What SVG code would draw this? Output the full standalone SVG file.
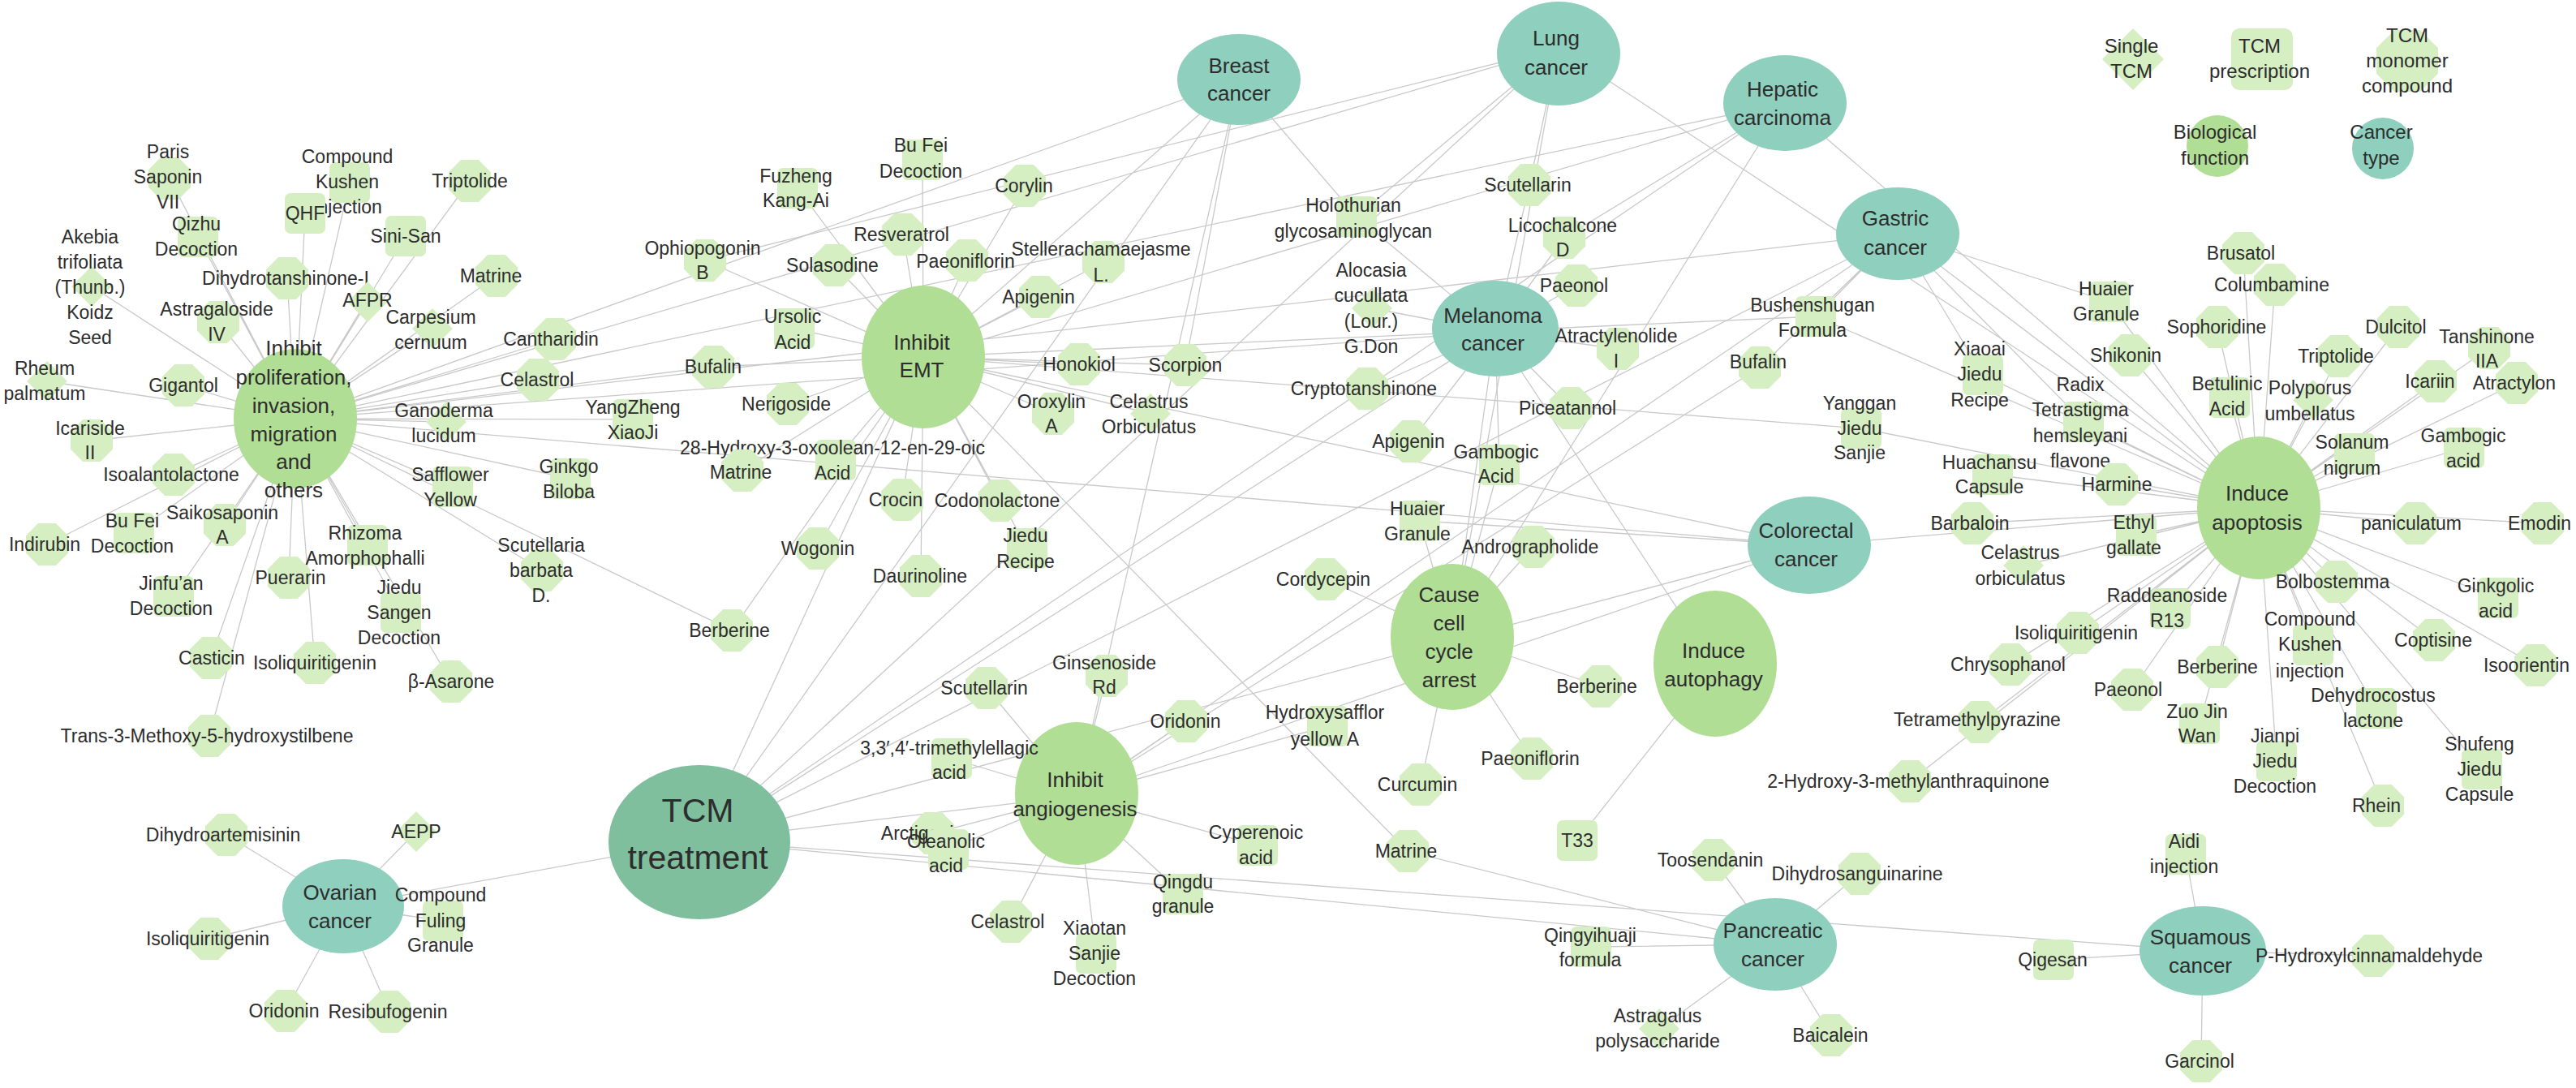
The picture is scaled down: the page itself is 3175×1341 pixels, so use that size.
<svg xmlns="http://www.w3.org/2000/svg" xmlns:xlink="http://www.w3.org/1999/xlink" width="3175" height="1341" viewBox="0 0 3175 1341">
<style>
.e path{fill:none;stroke:#c9c9c9;stroke-width:1.3}
text{font-family:"Liberation Sans",Arial,sans-serif;fill:#2d2d2d;text-anchor:middle}
.t{font-size:23px}
.b{font-size:26px}
.h{font-size:41px}
.lg{font-size:24px}
.bio{fill:#b1de95}
.can{fill:#8fcfbe}
.hub{fill:#7fbf9e}
.sm{fill:#d5efc3}
</style>
<defs>
<polygon id="o" fill="#d5efc3" points="-10.8,-26 10.8,-26 26,-10.8 26,10.8 10.8,26 -10.8,26 -26,10.8 -26,-10.8"/>
<rect id="s" fill="#d5efc3" x="-25" y="-25" width="50" height="50" rx="7"/>
<polygon id="d" fill="#d5efc3" points="0,-25 25,0 0,25 -25,0"/>
</defs>
<rect width="3175" height="1341" fill="#ffffff"/>
<g class="e" id="connectors">
<path d="M864 1036L423 1117M864 1036L2188 1164M864 1036L2715 1172M864 1036L1527 98M864 1036L1921 59M864 1036L2200 127M864 1036L2339 288M864 1036L1843 409M864 1036L2230 672M864 1036L1138 440M864 1036L1327 981"/>
<path d="M364 516L1527 98M364 516L1921 59M364 516L2200 127M364 516L2339 288M364 516L2230 672M364 516L1843 409M1138 440L1527 98M1138 440L2230 672M1138 440L2200 127M1327 981L2230 672M1327 981L1527 98M1327 981L2339 288M1790 785L1843 409M1790 785L2200 127M1790 785L1921 59M2114 821L1843 409M2784 626L2230 672M2784 626L2339 288M2784 626L2200 127M2784 626L1921 59"/>
<path d="M364 516L209 220M364 516L431 225M364 516L579 223M364 516L376 263M364 516L244 292M364 516L500 291M364 516L113 353M364 516L354 343M364 516L612 340M364 516L453 372M364 516L269 397M364 516L533 405M364 516L684 418M364 516L58 470M364 516L226 475M364 516L663 468M364 516L550 520M364 516L780 517M364 516L113 543M364 516L214 585M364 516L558 600M364 516L703 590M364 516L165 657M364 516L58 671M364 516L277 647M364 516L453 672M364 516L668 703M364 516L214 735M364 516L356 712M364 516L494 755M364 516L260 811M364 516L388 817M364 516L556 840M364 516L258 907M364 516L879 452M364 516L902 777"/>
<path d="M1138 440L1137 197M1138 440L983 232M1138 440L1263 229M1138 440L1113 289M1138 440L869 321M1138 440L1028 327M1138 440L1192 321M1138 440L1360 323M1138 440L1282 366M1138 440L979 405M1138 440L879 452M1138 440L1330 449M1138 440L1461 450M1138 440L971 498M1138 440L1298 510M1138 440L1418 510M1138 440L1030 567M1138 440L915 580M1138 440L1112 616M1138 440L1232 617M1138 440L1008 676M1138 440L1266 676M1138 440L1135 710M1138 440L902 777M1138 440L2238 390M1138 440L2294 528M1138 440L1735 1049"/>
<path d="M1327 981L1216 848M1327 981L1364 833M1327 981L1462 889M1327 981L1636 895M1327 981L1173 935M1327 981L1150 1027M1327 981L1169 1047M1327 981L1550 1042M1327 981L1246 1136M1327 981L1351 1175M1327 981L1458 1102M1327 981L2169 453"/>
<path d="M1790 785L1750 642M1790 785L1890 674M1790 785L1634 714M1790 785L1973 846M1790 785L1751 967M1790 785L1888 935M1790 785L1848 573M2114 821L1944 1036"/>
<path d="M2784 626L2765 312M2784 626L2804 351M2784 626L2600 372M2784 626L2733 403M2784 626L2956 403M2784 626L2625 438M2784 626L2883 439M2784 626L3068 429M2784 626L2444 462M2784 626L3002 470M2784 626L3102 472M2784 626L2568 520M2784 626L2748 490M2784 626L2851 493M2784 626L2902 559M2784 626L3037 552M2784 626L2456 585M2784 626L2609 597M2784 626L2977 645M2784 626L3134 645M2784 626L2431 645M2784 626L2633 660M2784 626L2494 697M2784 626L2880 717M2784 626L3079 737M2784 626L2675 750M2784 626L2561 780M2784 626L2851 795M2784 626L3000 789M2784 626L2478 819M2784 626L2733 822M2784 626L3125 820M2784 626L2628 850M2784 626L2929 873M2784 626L2440 890M2784 626L2711 892M2784 626L2806 938M2784 626L3059 948M2784 626L2937 993M2784 626L2354 963M2784 626L2238 390M2784 626L2294 528"/>
<path d="M1843 409L1885 228M1843 409L1672 267M1843 409L1928 293M1843 409L1691 380M1843 409L1943 352M1843 409L1994 430M1843 409L1685 479M1843 409L1936 503M1843 409L1739 544M1843 409L1848 573M1921 59L1885 228M1921 59L1672 267M1921 59L869 321M1527 98L1461 450M1527 98L1672 267M2200 127L1928 293M2339 288L2238 390M2339 288L2169 453M2339 288L2600 372M2339 288L2444 462M2339 288L2568 520M2230 672L1750 642"/>
<path d="M423 1117L279 1029M423 1117L513 1025M423 1117L546 1135M423 1117L258 1157M423 1117L352 1246M423 1117L480 1247M2188 1164L2112 1060M2188 1164L2292 1077M2188 1164L1961 1167M2188 1164L2045 1268M2188 1164L2257 1276M2188 1164L1735 1049M2715 1172L2694 1053M2715 1172L2531 1183M2715 1172L2925 1178M2715 1172L2713 1308"/>
</g>
<g id="legend">
<g id="lg-single"><polygon class="sm" points="2629,35 2667,73 2629,111 2591,73"/><text class="lg"><tspan x="2627" y="65">Single</tspan><tspan x="2627" y="96">TCM</tspan></text></g>
<g id="lg-prescription"><rect class="sm" x="2750" y="35" width="76" height="76" rx="10"/><text class="lg"><tspan x="2785" y="65">TCM</tspan><tspan x="2785" y="96">prescription</tspan></text></g>
<g id="lg-monomer"><polygon class="sm" points="2951.3,37 2982.7,37 3005,59.3 3005,90.7 2982.7,113 2951.3,113 2929,90.7 2929,59.3"/><text class="lg"><tspan x="2967" y="52">TCM</tspan><tspan x="2967" y="83">monomer</tspan><tspan x="2967" y="114">compound</tspan></text></g>
<g id="lg-bio"><circle class="bio" cx="2733" cy="180" r="38"/><text class="lg"><tspan x="2730" y="171">Biological</tspan><tspan x="2730" y="203">function</tspan></text></g>
<g id="lg-cancer"><circle class="can" cx="2937" cy="183" r="38"/><text class="lg"><tspan x="2935" y="171">Cancer</tspan><tspan x="2935" y="203">type</tspan></text></g>
</g>
<g id="hub-tcm"><ellipse class="hub" cx="862" cy="1038" rx="112" ry="95"/><text class="h"><tspan x="860" y="1013">TCM</tspan><tspan x="860" y="1071">treatment</tspan></text></g>
<g id="bio-prolif"><ellipse class="bio" cx="364" cy="516" rx="76" ry="86"/><text class="b"><tspan x="362" y="438">Inhibit</tspan><tspan x="362" y="474">proliferation,</tspan><tspan x="362" y="509">invasion,</tspan><tspan x="362" y="544">migration</tspan><tspan x="362" y="578">and</tspan><tspan x="362" y="613">others</tspan></text></g>
<g id="bio-emt"><ellipse class="bio" cx="1138" cy="440" rx="76" ry="88"/><text class="b"><tspan x="1136" y="431">Inhibit</tspan><tspan x="1136" y="465">EMT</tspan></text></g>
<g id="bio-angio"><ellipse class="bio" cx="1327" cy="978" rx="76" ry="88"/><text class="b"><tspan x="1325" y="970">Inhibit</tspan><tspan x="1325" y="1006">angiogenesis</tspan></text></g>
<g id="bio-cycle"><ellipse class="bio" cx="1790" cy="785" rx="76" ry="90"/><text class="b"><tspan x="1786" y="742">Cause</tspan><tspan x="1786" y="777">cell</tspan><tspan x="1786" y="812">cycle</tspan><tspan x="1786" y="847">arrest</tspan></text></g>
<g id="bio-autophagy"><ellipse class="bio" cx="2114" cy="818" rx="76" ry="90"/><text class="b"><tspan x="2112" y="811">Induce</tspan><tspan x="2112" y="846">autophagy</tspan></text></g>
<g id="bio-apoptosis"><ellipse class="bio" cx="2784" cy="626" rx="76" ry="88"/><text class="b"><tspan x="2782" y="617">Induce</tspan><tspan x="2782" y="653">apoptosis</tspan></text></g>
<g id="ca-breast"><ellipse class="can" cx="1527" cy="98" rx="76" ry="56"/><text class="b"><tspan x="1527" y="90">Breast</tspan><tspan x="1527" y="124">cancer</tspan></text></g>
<g id="ca-lung"><ellipse class="can" cx="1921" cy="66" rx="76" ry="64"/><text class="b"><tspan x="1918" y="56">Lung</tspan><tspan x="1918" y="92">cancer</tspan></text></g>
<g id="ca-hepatic"><ellipse class="can" cx="2200" cy="127" rx="76" ry="59"/><text class="b"><tspan x="2197" y="119">Hepatic</tspan><tspan x="2197" y="154">carcinoma</tspan></text></g>
<g id="ca-gastric"><ellipse class="can" cx="2339" cy="288" rx="76" ry="57"/><text class="b"><tspan x="2336" y="278">Gastric</tspan><tspan x="2336" y="314">cancer</tspan></text></g>
<g id="ca-melanoma"><ellipse class="can" cx="1843" cy="405" rx="78" ry="59"/><text class="b"><tspan x="1840" y="398">Melanoma</tspan><tspan x="1840" y="432">cancer</tspan></text></g>
<g id="ca-colorectal"><ellipse class="can" cx="2230" cy="672" rx="76" ry="60"/><text class="b"><tspan x="2226" y="663">Colorectal</tspan><tspan x="2226" y="698">cancer</tspan></text></g>
<g id="ca-ovarian"><ellipse class="can" cx="423" cy="1117" rx="75" ry="58"/><text class="b"><tspan x="419" y="1109">Ovarian</tspan><tspan x="419" y="1144">cancer</tspan></text></g>
<g id="ca-pancreatic"><ellipse class="can" cx="2188" cy="1164" rx="76" ry="57"/><text class="b"><tspan x="2185" y="1156">Pancreatic</tspan><tspan x="2185" y="1191">cancer</tspan></text></g>
<g id="ca-squamous"><ellipse class="can" cx="2715" cy="1172" rx="78" ry="55"/><text class="b"><tspan x="2712" y="1164">Squamous</tspan><tspan x="2712" y="1199">cancer</tspan></text></g>
<g id="p01"><use href="#o" x="209" y="220"/><text class="t"><tspan x="207" y="195">Paris</tspan><tspan x="207" y="226">Saponin</tspan><tspan x="207" y="257">VII</tspan></text></g>
<g id="p02"><use href="#s" x="431" y="225"/><text class="t"><tspan x="428" y="201">Compound</tspan><tspan x="428" y="232">Kushen</tspan><tspan x="428" y="263">Injection</tspan></text></g>
<g id="p03"><use href="#o" x="579" y="223"/><text class="t" x="579" y="231">Triptolide</text></g>
<g id="p04"><use href="#s" x="376" y="263"/><text class="t" x="376" y="271">QHF</text></g>
<g id="p05"><use href="#s" x="244" y="292"/><text class="t"><tspan x="242" y="284">Qizhu</tspan><tspan x="242" y="315">Decoction</tspan></text></g>
<g id="p06"><use href="#s" x="500" y="291"/><text class="t" x="500" y="299">Sini-San</text></g>
<g id="p07"><use href="#d" x="113" y="353"/><text class="t"><tspan x="111" y="300">Akebia</tspan><tspan x="111" y="331">trifoliata</tspan><tspan x="111" y="362">(Thunb.)</tspan><tspan x="111" y="393">Koidz</tspan><tspan x="111" y="424">Seed</tspan></text></g>
<g id="p08"><use href="#o" x="354" y="343"/><text class="t" x="352" y="351">Dihydrotanshinone-I</text></g>
<g id="p09"><use href="#o" x="612" y="340"/><text class="t" x="605" y="348">Matrine</text></g>
<g id="p10"><use href="#d" x="453" y="372"/><text class="t" x="453" y="378">AFPR</text></g>
<g id="p11"><use href="#o" x="269" y="397"/><text class="t"><tspan x="267" y="389">Astragaloside</tspan><tspan x="267" y="420">IV</tspan></text></g>
<g id="p12"><use href="#d" x="533" y="405"/><text class="t"><tspan x="531" y="399">Carpesium</tspan><tspan x="531" y="430">cernuum</tspan></text></g>
<g id="p13"><use href="#o" x="684" y="418"/><text class="t" x="679" y="426">Cantharidin</text></g>
<g id="p14"><use href="#d" x="58" y="470"/><text class="t"><tspan x="55" y="462">Rheum</tspan><tspan x="55" y="493">palmatum</tspan></text></g>
<g id="p15"><use href="#o" x="226" y="475"/><text class="t" x="226" y="483">Gigantol</text></g>
<g id="p16"><use href="#o" x="663" y="468"/><text class="t" x="662" y="476">Celastrol</text></g>
<g id="p17"><use href="#d" x="550" y="520"/><text class="t"><tspan x="547" y="514">Ganoderma</tspan><tspan x="547" y="545">lucidum</tspan></text></g>
<g id="p18"><use href="#s" x="780" y="517"/><text class="t"><tspan x="780" y="510">YangZheng</tspan><tspan x="780" y="541">XiaoJi</tspan></text></g>
<g id="p19"><use href="#o" x="113" y="543"/><text class="t"><tspan x="111" y="536">Icariside</tspan><tspan x="111" y="566">II</tspan></text></g>
<g id="p20"><use href="#o" x="214" y="585"/><text class="t" x="211" y="593">Isoalantolactone</text></g>
<g id="p21"><use href="#s" x="558" y="600"/><text class="t"><tspan x="555" y="593">Safflower</tspan><tspan x="555" y="624">Yellow</tspan></text></g>
<g id="p22"><use href="#s" x="703" y="590"/><text class="t"><tspan x="701" y="583">Ginkgo</tspan><tspan x="701" y="614">Biloba</tspan></text></g>
<g id="p23"><use href="#s" x="165" y="657"/><text class="t"><tspan x="163" y="650">Bu Fei</tspan><tspan x="163" y="681">Decoction</tspan></text></g>
<g id="p24"><use href="#o" x="58" y="671"/><text class="t" x="55" y="679">Indirubin</text></g>
<g id="p25"><use href="#o" x="277" y="647"/><text class="t"><tspan x="274" y="640">Saikosaponin</tspan><tspan x="274" y="670">A</tspan></text></g>
<g id="p26"><use href="#s" x="453" y="672"/><text class="t"><tspan x="450" y="665">Rhizoma</tspan><tspan x="450" y="696">Amorphophalli</tspan></text></g>
<g id="p27"><use href="#o" x="668" y="703"/><text class="t"><tspan x="667" y="680">Scutellaria</tspan><tspan x="667" y="711">barbata</tspan><tspan x="667" y="742">D.</tspan></text></g>
<g id="p28"><use href="#s" x="214" y="735"/><text class="t"><tspan x="211" y="727">Jinfu’an</tspan><tspan x="211" y="758">Decoction</tspan></text></g>
<g id="p29"><use href="#o" x="356" y="712"/><text class="t" x="358" y="720">Puerarin</text></g>
<g id="p30"><use href="#s" x="494" y="755"/><text class="t"><tspan x="492" y="732">Jiedu</tspan><tspan x="492" y="763">Sangen</tspan><tspan x="492" y="794">Decoction</tspan></text></g>
<g id="p31"><use href="#o" x="260" y="811"/><text class="t" x="261" y="819">Casticin</text></g>
<g id="p32"><use href="#o" x="388" y="817"/><text class="t" x="388" y="825">Isoliquiritigenin</text></g>
<g id="p33"><use href="#o" x="556" y="840"/><text class="t" x="556" y="848">β-Asarone</text></g>
<g id="p34"><use href="#o" x="258" y="907"/><text class="t" x="255" y="915">Trans-3-Methoxy-5-hydroxystilbene</text></g>
<g id="e01"><use href="#s" x="1137" y="197"/><text class="t"><tspan x="1135" y="187">Bu Fei</tspan><tspan x="1135" y="219">Decoction</tspan></text></g>
<g id="e02"><use href="#s" x="983" y="232"/><text class="t"><tspan x="981" y="225">Fuzheng</tspan><tspan x="981" y="255">Kang-Ai</tspan></text></g>
<g id="e03"><use href="#o" x="1263" y="229"/><text class="t" x="1262" y="237">Corylin</text></g>
<g id="e04"><use href="#o" x="1113" y="289"/><text class="t" x="1111" y="297">Resveratrol</text></g>
<g id="e05"><use href="#o" x="869" y="321"/><text class="t"><tspan x="866" y="314">Ophiopogonin</tspan><tspan x="866" y="344">B</tspan></text></g>
<g id="e06"><use href="#o" x="1028" y="327"/><text class="t" x="1026" y="335">Solasodine</text></g>
<g id="e07"><use href="#o" x="1192" y="321"/><text class="t" x="1190" y="330">Paeoniflorin</text></g>
<g id="e08"><use href="#o" x="1360" y="323"/><text class="t"><tspan x="1357" y="315">Stellerachamaejasme</tspan><tspan x="1357" y="347">L.</tspan></text></g>
<g id="e09"><use href="#o" x="1282" y="366"/><text class="t" x="1280" y="374">Apigenin</text></g>
<g id="e10"><use href="#s" x="979" y="405"/><text class="t"><tspan x="977" y="398">Ursolic</tspan><tspan x="977" y="430">Acid</tspan></text></g>
<g id="e11"><use href="#o" x="879" y="452"/><text class="t" x="879" y="460">Bufalin</text></g>
<g id="e12"><use href="#o" x="1330" y="449"/><text class="t" x="1330" y="457">Honokiol</text></g>
<g id="e13"><use href="#o" x="1461" y="450"/><text class="t" x="1461" y="458">Scorpion</text></g>
<g id="e14"><use href="#o" x="971" y="498"/><text class="t" x="969" y="506">Nerigoside</text></g>
<g id="e15"><use href="#o" x="1298" y="510"/><text class="t"><tspan x="1296" y="503">Oroxylin</tspan><tspan x="1296" y="533">A</tspan></text></g>
<g id="e16"><use href="#d" x="1418" y="510"/><text class="t"><tspan x="1416" y="503">Celastrus</tspan><tspan x="1416" y="534">Orbiculatus</tspan></text></g>
<g id="e17"><use href="#s" x="1030" y="567"/><text class="t"><tspan x="1026" y="560">28-Hydroxy-3-oxoolean-12-en-29-oic</tspan><tspan x="1026" y="591">Acid</tspan></text></g>
<g id="e18"><use href="#o" x="915" y="580"/><text class="t" x="913" y="590">Matrine</text></g>
<g id="e19"><use href="#o" x="1112" y="616"/><text class="t" x="1104" y="624">Crocin</text></g>
<g id="e20"><use href="#o" x="1232" y="617"/><text class="t" x="1229" y="625">Codonolactone</text></g>
<g id="e21"><use href="#o" x="1008" y="676"/><text class="t" x="1008" y="684">Wogonin</text></g>
<g id="e22"><use href="#s" x="1266" y="676"/><text class="t"><tspan x="1264" y="668">Jiedu</tspan><tspan x="1264" y="700">Recipe</tspan></text></g>
<g id="e23"><use href="#o" x="1135" y="710"/><text class="t" x="1134" y="718">Daurinoline</text></g>
<g id="e24"><use href="#o" x="902" y="777"/><text class="t" x="899" y="785">Berberine</text></g>
<g id="a01"><use href="#o" x="1216" y="848"/><text class="t" x="1213" y="856">Scutellarin</text></g>
<g id="a02"><use href="#o" x="1364" y="833"/><text class="t"><tspan x="1361" y="825">Ginsenoside</tspan><tspan x="1361" y="855">Rd</tspan></text></g>
<g id="a03"><use href="#o" x="1462" y="889"/><text class="t" x="1461" y="897">Oridonin</text></g>
<g id="a04"><use href="#s" x="1636" y="895"/><text class="t"><tspan x="1633" y="886">Hydroxysafflor</tspan><tspan x="1633" y="919">yellow A</tspan></text></g>
<g id="a05"><use href="#s" x="1173" y="935"/><text class="t"><tspan x="1170" y="930">3,3′,4′-trimethylellagic</tspan><tspan x="1170" y="960">acid</tspan></text></g>
<g id="a06"><use href="#o" x="1150" y="1027"/><text class="t" x="1137" y="1035">Arctigenin</text></g>
<g id="a07"><use href="#s" x="1169" y="1047"/><text class="t"><tspan x="1166" y="1045">Oleanolic</tspan><tspan x="1166" y="1075">acid</tspan></text></g>
<g id="a08"><use href="#s" x="1550" y="1042"/><text class="t"><tspan x="1548" y="1034">Cyperenoic</tspan><tspan x="1548" y="1065">acid</tspan></text></g>
<g id="a09"><use href="#o" x="1246" y="1136"/><text class="t" x="1242" y="1144">Celastrol</text></g>
<g id="a10"><use href="#s" x="1351" y="1175"/><text class="t"><tspan x="1349" y="1152">Xiaotan</tspan><tspan x="1349" y="1183">Sanjie</tspan><tspan x="1349" y="1214">Decoction</tspan></text></g>
<g id="a11"><use href="#s" x="1458" y="1102"/><text class="t"><tspan x="1458" y="1095">Qingdu</tspan><tspan x="1458" y="1125">granule</tspan></text></g>
<g id="c01"><use href="#s" x="1750" y="642"/><text class="t"><tspan x="1747" y="635">Huaier</tspan><tspan x="1747" y="666">Granule</tspan></text></g>
<g id="c02"><use href="#o" x="1890" y="674"/><text class="t" x="1886" y="682">Andrographolide</text></g>
<g id="c03"><use href="#o" x="1634" y="714"/><text class="t" x="1631" y="722">Cordycepin</text></g>
<g id="c04"><use href="#o" x="1973" y="846"/><text class="t" x="1968" y="854">Berberine</text></g>
<g id="c05"><use href="#o" x="1751" y="967"/><text class="t" x="1747" y="975">Curcumin</text></g>
<g id="c06"><use href="#o" x="1888" y="935"/><text class="t" x="1886" y="943">Paeoniflorin</text></g>
<g id="c07"><use href="#s" x="1848" y="573"/><text class="t"><tspan x="1844" y="565">Gambogic</tspan><tspan x="1844" y="595">Acid</tspan></text></g>
<g id="u01"><use href="#s" x="1944" y="1036"/><text class="t" x="1944" y="1044">T33</text></g>
<g id="m01"><use href="#o" x="1885" y="228"/><text class="t" x="1883" y="236">Scutellarin</text></g>
<g id="m02"><use href="#s" x="1672" y="267"/><text class="t"><tspan x="1668" y="261">Holothurian</tspan><tspan x="1668" y="293">glycosaminoglycan</tspan></text></g>
<g id="m03"><use href="#o" x="1928" y="293"/><text class="t"><tspan x="1926" y="286">Licochalcone</tspan><tspan x="1926" y="316">D</tspan></text></g>
<g id="m04"><use href="#d" x="1691" y="380"/><text class="t"><tspan x="1690" y="341">Alocasia</tspan><tspan x="1690" y="372">cucullata</tspan><tspan x="1690" y="404">(Lour.)</tspan><tspan x="1690" y="435">G.Don</tspan></text></g>
<g id="m05"><use href="#o" x="1943" y="352"/><text class="t" x="1940" y="360">Paeonol</text></g>
<g id="m06"><use href="#o" x="1994" y="430"/><text class="t"><tspan x="1992" y="422">Atractylenolide</tspan><tspan x="1992" y="453">I</tspan></text></g>
<g id="m07"><use href="#o" x="1685" y="479"/><text class="t" x="1681" y="487">Cryptotanshinone</text></g>
<g id="m08"><use href="#o" x="1936" y="503"/><text class="t" x="1932" y="511">Piceatannol</text></g>
<g id="m09"><use href="#o" x="1739" y="544"/><text class="t" x="1736" y="552">Apigenin</text></g>
<g id="g01"><use href="#s" x="2238" y="390"/><text class="t"><tspan x="2234" y="384">Bushenshugan</tspan><tspan x="2234" y="415">Formula</tspan></text></g>
<g id="g02"><use href="#o" x="2169" y="453"/><text class="t" x="2167" y="454">Bufalin</text></g>
<g id="g03"><use href="#s" x="2294" y="528"/><text class="t"><tspan x="2292" y="505">Yanggan</tspan><tspan x="2292" y="536">Jiedu</tspan><tspan x="2292" y="566">Sanjie</tspan></text></g>
<g id="d01"><use href="#o" x="2765" y="312"/><text class="t" x="2762" y="320">Brusatol</text></g>
<g id="d02"><use href="#o" x="2804" y="351"/><text class="t" x="2800" y="359">Columbamine</text></g>
<g id="d03"><use href="#s" x="2600" y="372"/><text class="t"><tspan x="2596" y="364">Huaier</tspan><tspan x="2596" y="395">Granule</tspan></text></g>
<g id="d04"><use href="#o" x="2733" y="403"/><text class="t" x="2732" y="411">Sophoridine</text></g>
<g id="d05"><use href="#o" x="2956" y="403"/><text class="t" x="2953" y="411">Dulcitol</text></g>
<g id="d06"><use href="#o" x="2625" y="438"/><text class="t" x="2620" y="446">Shikonin</text></g>
<g id="d07"><use href="#o" x="2883" y="439"/><text class="t" x="2879" y="447">Triptolide</text></g>
<g id="d08"><use href="#o" x="3068" y="429"/><text class="t"><tspan x="3065" y="423">Tanshinone</tspan><tspan x="3065" y="453">IIA</tspan></text></g>
<g id="d09"><use href="#s" x="2444" y="462"/><text class="t"><tspan x="2440" y="438">Xiaoai</tspan><tspan x="2440" y="469">Jiedu</tspan><tspan x="2440" y="501">Recipe</tspan></text></g>
<g id="d10"><use href="#o" x="3002" y="470"/><text class="t" x="2995" y="478">Icariin</text></g>
<g id="d11"><use href="#o" x="3102" y="472"/><text class="t" x="3099" y="480">Atractylon</text></g>
<g id="d12"><use href="#s" x="2568" y="520"/><text class="t"><tspan x="2564" y="482">Radix</tspan><tspan x="2564" y="513">Tetrastigma</tspan><tspan x="2564" y="545">hemsleyani</tspan><tspan x="2564" y="576">flavone</tspan></text></g>
<g id="d13"><use href="#s" x="2748" y="490"/><text class="t"><tspan x="2745" y="481">Betulinic</tspan><tspan x="2745" y="512">Acid</tspan></text></g>
<g id="d14"><use href="#d" x="2851" y="493"/><text class="t"><tspan x="2847" y="486">Polyporus</tspan><tspan x="2847" y="518">umbellatus</tspan></text></g>
<g id="d15"><use href="#s" x="2902" y="559"/><text class="t"><tspan x="2899" y="553">Solanum</tspan><tspan x="2899" y="585">nigrum</tspan></text></g>
<g id="d16"><use href="#s" x="3037" y="552"/><text class="t"><tspan x="3036" y="545">Gambogic</tspan><tspan x="3036" y="576">acid</tspan></text></g>
<g id="d17"><use href="#s" x="2456" y="585"/><text class="t"><tspan x="2452" y="578">Huachansu</tspan><tspan x="2452" y="608">Capsule</tspan></text></g>
<g id="d18"><use href="#o" x="2609" y="597"/><text class="t" x="2609" y="605">Harmine</text></g>
<g id="d19"><use href="#o" x="2977" y="645"/><text class="t" x="2972" y="653">paniculatum</text></g>
<g id="d20"><use href="#o" x="3134" y="645"/><text class="t" x="3130" y="653">Emodin</text></g>
<g id="d21"><use href="#o" x="2431" y="645"/><text class="t" x="2428" y="653">Barbaloin</text></g>
<g id="d22"><use href="#s" x="2633" y="660"/><text class="t"><tspan x="2630" y="652">Ethyl</tspan><tspan x="2630" y="683">gallate</tspan></text></g>
<g id="d23"><use href="#d" x="2494" y="697"/><text class="t"><tspan x="2490" y="689">Celastrus</tspan><tspan x="2490" y="721">orbiculatus</tspan></text></g>
<g id="d24"><use href="#o" x="2880" y="717"/><text class="t" x="2875" y="725">Bolbostemma</text></g>
<g id="d25"><use href="#s" x="3079" y="737"/><text class="t"><tspan x="3076" y="730">Ginkgolic</tspan><tspan x="3076" y="761">acid</tspan></text></g>
<g id="d26"><use href="#s" x="2675" y="750"/><text class="t"><tspan x="2671" y="742">Raddeanoside</tspan><tspan x="2671" y="773">R13</tspan></text></g>
<g id="d27"><use href="#o" x="2561" y="780"/><text class="t" x="2559" y="788">Isoliquiritigenin</text></g>
<g id="d28"><use href="#s" x="2851" y="795"/><text class="t"><tspan x="2847" y="771">Compound</tspan><tspan x="2847" y="802">Kushen</tspan><tspan x="2847" y="835">injection</tspan></text></g>
<g id="d29"><use href="#o" x="3000" y="789"/><text class="t" x="2999" y="797">Coptisine</text></g>
<g id="d30"><use href="#o" x="2478" y="819"/><text class="t" x="2475" y="827">Chrysophanol</text></g>
<g id="d31"><use href="#o" x="2733" y="822"/><text class="t" x="2733" y="830">Berberine</text></g>
<g id="d32"><use href="#o" x="3125" y="820"/><text class="t" x="3114" y="828">Isoorientin</text></g>
<g id="d33"><use href="#o" x="2628" y="850"/><text class="t" x="2623" y="858">Paeonol</text></g>
<g id="d34"><use href="#s" x="2929" y="873"/><text class="t"><tspan x="2925" y="865">Dehydrocostus</tspan><tspan x="2925" y="896">lactone</tspan></text></g>
<g id="d35"><use href="#o" x="2440" y="890"/><text class="t" x="2437" y="895">Tetramethylpyrazine</text></g>
<g id="d36"><use href="#s" x="2711" y="892"/><text class="t"><tspan x="2708" y="885">Zuo Jin</tspan><tspan x="2708" y="915">Wan</tspan></text></g>
<g id="d37"><use href="#s" x="2806" y="938"/><text class="t"><tspan x="2804" y="915">Jianpi</tspan><tspan x="2804" y="946">Jiedu</tspan><tspan x="2804" y="977">Decoction</tspan></text></g>
<g id="d38"><use href="#s" x="3059" y="948"/><text class="t"><tspan x="3056" y="925">Shufeng</tspan><tspan x="3056" y="956">Jiedu</tspan><tspan x="3056" y="987">Capsule</tspan></text></g>
<g id="d39"><use href="#o" x="2937" y="993"/><text class="t" x="2929" y="1001">Rhein</text></g>
<g id="d40"><use href="#o" x="2354" y="963"/><text class="t" x="2352" y="971">2-Hydroxy-3-methylanthraquinone</text></g>
<g id="o01"><use href="#o" x="279" y="1029"/><text class="t" x="275" y="1037">Dihydroartemisinin</text></g>
<g id="o02"><use href="#d" x="513" y="1025"/><text class="t" x="513" y="1033">AEPP</text></g>
<g id="o03"><use href="#s" x="546" y="1135"/><text class="t"><tspan x="543" y="1111">Compound</tspan><tspan x="543" y="1143">Fuling</tspan><tspan x="543" y="1173">Granule</tspan></text></g>
<g id="o04"><use href="#o" x="258" y="1157"/><text class="t" x="256" y="1165">Isoliquiritigenin</text></g>
<g id="o05"><use href="#o" x="352" y="1246"/><text class="t" x="350" y="1254">Oridonin</text></g>
<g id="o06"><use href="#o" x="480" y="1247"/><text class="t" x="478" y="1255">Resibufogenin</text></g>
<g id="n01"><use href="#o" x="2112" y="1060"/><text class="t" x="2108" y="1068">Toosendanin</text></g>
<g id="n02"><use href="#o" x="2292" y="1077"/><text class="t" x="2289" y="1085">Dihydrosanguinarine</text></g>
<g id="n03"><use href="#s" x="1961" y="1167"/><text class="t"><tspan x="1960" y="1161">Qingyihuaji</tspan><tspan x="1960" y="1191">formula</tspan></text></g>
<g id="n04"><use href="#d" x="2045" y="1268"/><text class="t"><tspan x="2043" y="1260">Astragalus</tspan><tspan x="2043" y="1291">polysaccharide</tspan></text></g>
<g id="n05"><use href="#o" x="2257" y="1276"/><text class="t" x="2256" y="1284">Baicalein</text></g>
<g id="n06"><use href="#o" x="1735" y="1049"/><text class="t" x="1733" y="1057">Matrine</text></g>
<g id="s01"><use href="#s" x="2694" y="1053"/><text class="t"><tspan x="2692" y="1045">Aidi</tspan><tspan x="2692" y="1076">injection</tspan></text></g>
<g id="s02"><use href="#s" x="2531" y="1183"/><text class="t" x="2530" y="1191">Qigesan</text></g>
<g id="s03"><use href="#o" x="2925" y="1178"/><text class="t" x="2920" y="1186">P-Hydroxylcinnamaldehyde</text></g>
<g id="s04"><use href="#o" x="2713" y="1308"/><text class="t" x="2711" y="1316">Garcinol</text></g>
</svg>
